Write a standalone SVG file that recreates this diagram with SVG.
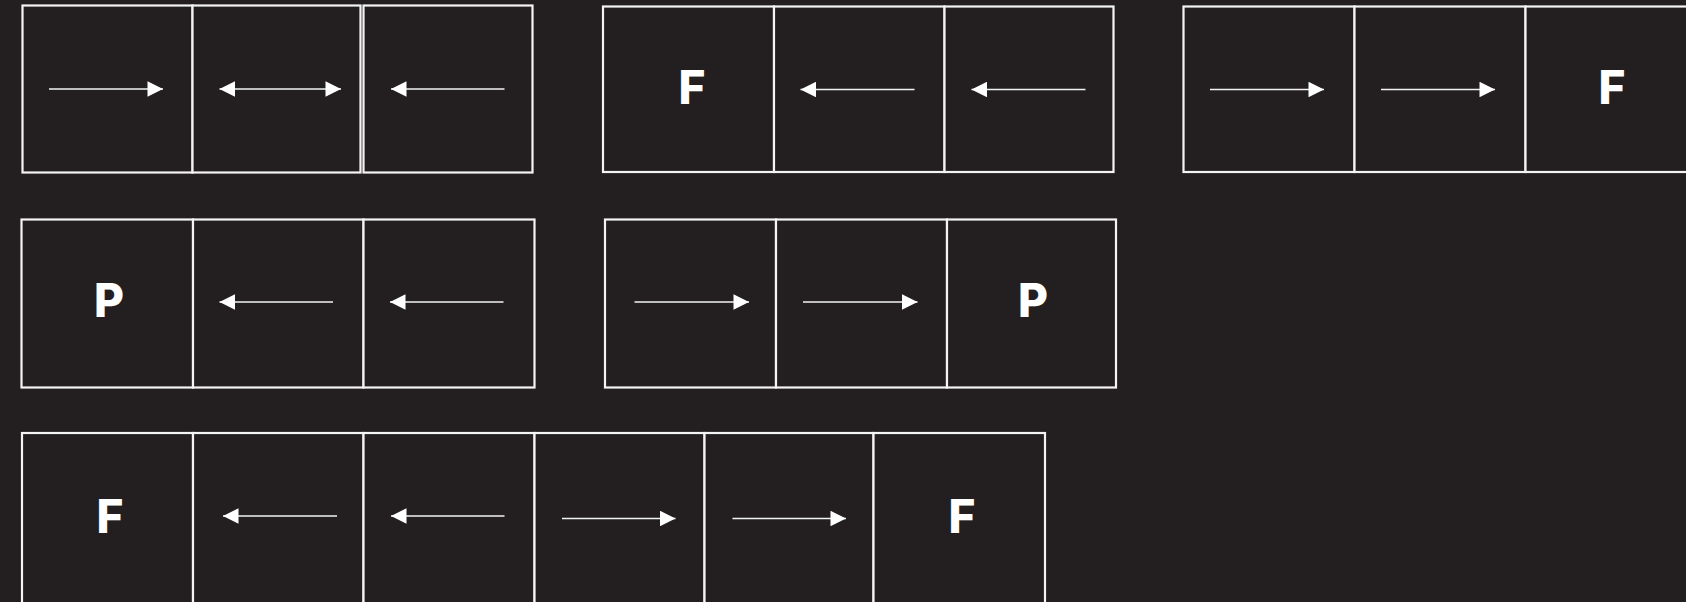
<svg xmlns="http://www.w3.org/2000/svg" width="1686" height="602" viewBox="0 0 1686 602">
<style>
.cell{fill:#231f20;stroke:#f4f4f4;stroke-width:2.2}
.lbl{font-family:Inter,"Open Sans","Liberation Sans",sans-serif;font-weight:800;font-size:46px;fill:#ffffff;text-anchor:middle}
.arr{stroke:#f4f4f4;stroke-width:1.5;fill:none}
.r{marker-end:url(#ah)}
.l{marker-start:url(#ah)}
.b{marker-start:url(#ah);marker-end:url(#ah)}
</style>
<defs>
<marker id="ah" viewBox="0 0 10 10" refX="10" refY="5" markerUnits="userSpaceOnUse" markerWidth="16.5" markerHeight="15.5" orient="auto-start-reverse">
<path d="M0,0 L10,5 L0,10 z" fill="#ffffff"/>
</marker>
</defs>
<rect width="1686" height="602" fill="#231f20"/>

<g id="gridA">
<rect class="cell" x="22.5" y="5.5" width="170" height="167"/>
<rect class="cell" x="192.5" y="5.5" width="168" height="167"/>
<rect class="cell" x="363.5" y="5.5" width="169" height="167"/>
</g>
<g id="gridB">
<rect class="cell" x="603" y="6.5" width="171" height="165.5"/>
<rect class="cell" x="774" y="6.5" width="170.5" height="165.5"/>
<rect class="cell" x="944.5" y="6.5" width="169" height="165.5"/>
<text class="lbl" x="692" y="104">F</text>
</g>
<g id="gridC">
<rect class="cell" x="1183.5" y="6.5" width="171" height="165.5"/>
<rect class="cell" x="1354.5" y="6.5" width="171" height="165.5"/>
<rect class="cell" x="1525.5" y="6.5" width="171" height="165.5"/>
<text class="lbl" x="1612" y="104">F</text>
</g>
<g id="gridD">
<rect class="cell" x="21.5" y="219.5" width="171.5" height="168"/>
<rect class="cell" x="193" y="219.5" width="170.5" height="168"/>
<rect class="cell" x="363.5" y="219.5" width="171" height="168"/>
<text class="lbl" x="109" y="317">P</text>
</g>
<g id="gridE">
<rect class="cell" x="605" y="219.5" width="171" height="168"/>
<rect class="cell" x="776" y="219.5" width="171" height="168"/>
<rect class="cell" x="947" y="219.5" width="169" height="168"/>
<text class="lbl" x="1033" y="317">P</text>
</g>
<g id="gridF">
<rect class="cell" x="22" y="433" width="171" height="172"/>
<rect class="cell" x="193" y="433" width="170.5" height="172"/>
<rect class="cell" x="363.5" y="433" width="171" height="172"/>
<rect class="cell" x="534.5" y="433" width="170" height="172"/>
<rect class="cell" x="704.5" y="433" width="169" height="172"/>
<rect class="cell" x="873.5" y="433" width="171.5" height="172"/>
<text class="lbl" x="110" y="533">F</text>
<text class="lbl" x="962" y="533">F</text>
</g>

<g id="connectors">
<line class="arr r" x1="49" y1="89" x2="163" y2="89"/>
<line class="arr b" x1="219.5" y1="89" x2="341" y2="89"/>
<line class="arr l" x1="391" y1="89" x2="504.5" y2="89"/>
<line class="arr l" x1="800.5" y1="89.5" x2="914.5" y2="89.5"/>
<line class="arr l" x1="971.5" y1="89.5" x2="1085.5" y2="89.5"/>
<line class="arr r" x1="1210" y1="89.5" x2="1324" y2="89.5"/>
<line class="arr r" x1="1381" y1="89.5" x2="1495" y2="89.5"/>
<line class="arr l" x1="219.5" y1="302" x2="333" y2="302"/>
<line class="arr l" x1="390" y1="302" x2="503.5" y2="302"/>
<line class="arr r" x1="634.5" y1="302" x2="749" y2="302"/>
<line class="arr r" x1="803" y1="302" x2="917.5" y2="302"/>
<line class="arr l" x1="223" y1="516" x2="337" y2="516"/>
<line class="arr l" x1="391" y1="516" x2="504.5" y2="516"/>
<line class="arr r" x1="562" y1="518.5" x2="675.5" y2="518.5"/>
<line class="arr r" x1="732.5" y1="518.5" x2="846" y2="518.5"/>
</g>
</svg>
